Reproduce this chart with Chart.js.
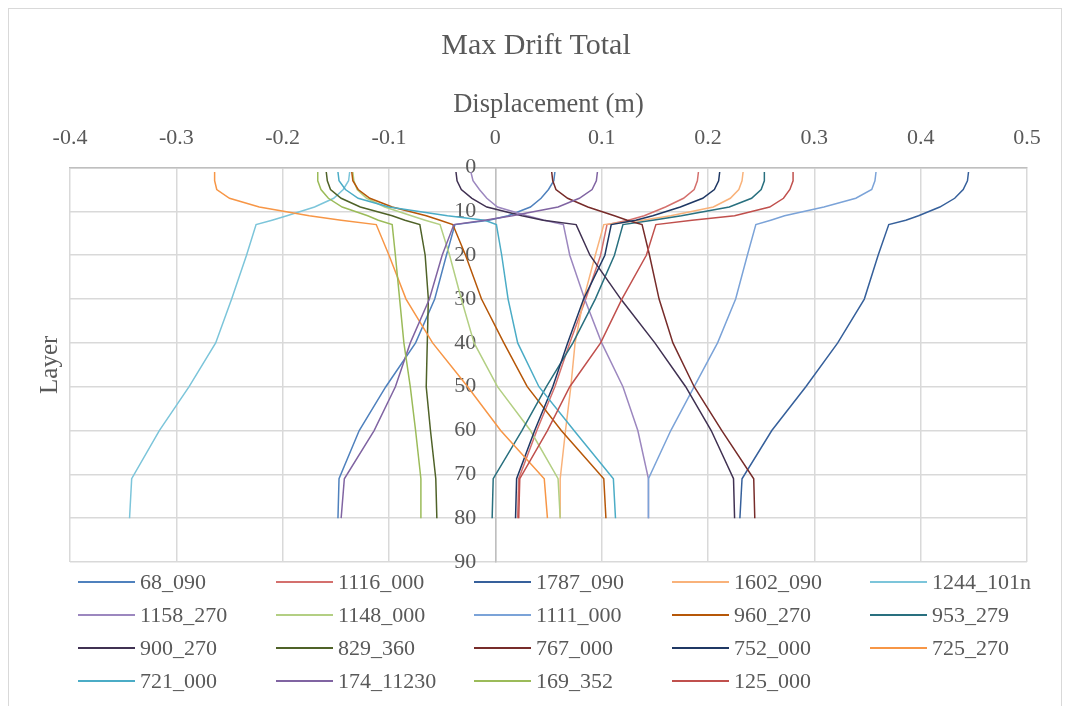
<!DOCTYPE html>
<html>
<head>
<meta charset="utf-8">
<title>Max Drift Total</title>
<script src="https://cdn.jsdelivr.net/npm/chart.js@4.4.1/dist/chart.umd.min.js"></script>
<style>
  html, body { margin: 0; padding: 0; background: #fff; }
  #wrap { position: relative; width: 1065px; height: 706px; overflow: hidden; }
  #frame { position: absolute; left: 8px; top: 8px; width: 1054px; height: 710px; border: 1px solid #d9d9d9; box-sizing: border-box; }
  #chart { position: absolute; left: 0; top: 0; }
  #legend {
    position: absolute; left: 78px; top: 565px;
    display: grid; grid-template-columns: repeat(5, 198px); grid-auto-rows: 33px;
    font: 22px "Liberation Serif", "Times New Roman", serif; color: #595959;
  }
  .item { display: flex; align-items: center; white-space: nowrap; }
  .swatch { width: 57px; height: 2px; margin-right: 5px; }
</style>
</head>
<body>
<div id="wrap">
  <div id="frame"></div>
  <canvas id="chart" width="1065" height="706"></canvas>
  <div id="legend"></div>
</div>
<script>
const layers = [1, 3, 5, 7, 9, 11, 12, 13, 20, 30, 40, 50, 60, 71, 80];

// Max displacement (m) per record, same order as layers
const r68_090   = [0.056, 0.055, 0.050, 0.043, 0.033, 0.012, -0.006, -0.038, -0.046, -0.057, -0.075, -0.103, -0.128, -0.147, -0.148];
const r1116_000 = [0.191, 0.190, 0.187, 0.177, 0.160, 0.140, 0.125, 0.105, 0.099, 0.085, 0.070, 0.056, 0.039, 0.022, 0.021];
const r1787_090 = [0.445, 0.444, 0.440, 0.432, 0.418, 0.398, 0.386, 0.370, 0.360, 0.347, 0.322, 0.292, 0.260, 0.232, 0.230];
const r1602_090 = [0.233, 0.232, 0.229, 0.221, 0.205, 0.165, 0.138, 0.102, 0.094, 0.083, 0.075, 0.071, 0.066, 0.061, 0.061];
const r1244_101n = [-0.137, -0.138, -0.143, -0.152, -0.170, -0.196, -0.210, -0.225, -0.234, -0.248, -0.263, -0.288, -0.316, -0.342, -0.344];
const r1158_270 = [-0.023, -0.021, -0.015, -0.008, 0.002, 0.030, 0.046, 0.064, 0.070, 0.084, 0.100, 0.120, 0.134, 0.144, 0.144];
const r1148_000 = [-0.134, -0.133, -0.130, -0.121, -0.104, -0.079, -0.066, -0.052, -0.043, -0.032, -0.020, 0.002, 0.033, 0.059, 0.061];
const r1111_000 = [0.358, 0.357, 0.354, 0.339, 0.309, 0.272, 0.259, 0.245, 0.237, 0.226, 0.209, 0.187, 0.165, 0.144, 0.144];
const r960_270  = [-0.135, -0.134, -0.129, -0.118, -0.097, -0.065, -0.052, -0.040, -0.028, -0.013, 0.008, 0.030, 0.062, 0.102, 0.104];
const r953_279  = [0.253, 0.253, 0.250, 0.241, 0.220, 0.175, 0.148, 0.120, 0.112, 0.094, 0.073, 0.048, 0.025, -0.002, -0.003];
const r900_270  = [-0.037, -0.036, -0.032, -0.022, -0.008, 0.025, 0.045, 0.076, 0.089, 0.118, 0.150, 0.179, 0.203, 0.224, 0.225];
const r829_360  = [-0.159, -0.158, -0.155, -0.145, -0.127, -0.097, -0.085, -0.071, -0.066, -0.063, -0.064, -0.065, -0.061, -0.056, -0.055];
const r767_000  = [0.053, 0.054, 0.057, 0.068, 0.087, 0.112, 0.124, 0.138, 0.145, 0.154, 0.167, 0.187, 0.213, 0.243, 0.244];
const r752_000  = [0.211, 0.210, 0.206, 0.195, 0.174, 0.148, 0.132, 0.109, 0.103, 0.083, 0.068, 0.054, 0.037, 0.020, 0.019];
const r725_270  = [-0.264, -0.264, -0.262, -0.250, -0.222, -0.175, -0.145, -0.112, -0.100, -0.084, -0.059, -0.026, 0.005, 0.046, 0.049];
const r721_000  = [-0.148, -0.147, -0.141, -0.129, -0.100, -0.045, -0.010, 0.001, 0.006, 0.012, 0.021, 0.041, 0.074, 0.111, 0.113];
const r174_11230 = [0.096, 0.095, 0.091, 0.079, 0.059, 0.016, -0.010, -0.039, -0.050, -0.062, -0.080, -0.094, -0.114, -0.142, -0.145];
const r169_352  = [-0.167, -0.167, -0.164, -0.157, -0.144, -0.120, -0.110, -0.097, -0.094, -0.090, -0.086, -0.080, -0.075, -0.070, -0.070];
const r125_000  = [0.280, 0.280, 0.277, 0.271, 0.258, 0.225, 0.185, 0.151, 0.142, 0.119, 0.099, 0.070, 0.049, 0.023, 0.022];

const seriesNames = ['68_090', '1116_000', '1787_090', '1602_090', '1244_101n',
                     '1158_270', '1148_000', '1111_000', '960_270', '953_279',
                     '900_270', '829_360', '767_000', '752_000', '725_270',
                     '721_000', '174_11230', '169_352', '125_000'];
const seriesValues = [r68_090, r1116_000, r1787_090, r1602_090, r1244_101n,
                      r1158_270, r1148_000, r1111_000, r960_270, r953_279,
                      r900_270, r829_360, r767_000, r752_000, r725_270,
                      r721_000, r174_11230, r169_352, r125_000];
const seriesColors = ['#4F81BD', '#D4706D', '#36609B', '#F9B27A', '#7CC5DA',
                      '#9C87BF', '#B3CF83', '#7BA3D8', '#B65708', '#29707F',
                      '#403152', '#4F6228', '#772C2A', '#1F3864', '#F79646',
                      '#4BACC6', '#8064A2', '#9BBB59', '#C0504D'];

const xTicks = [-0.4, 0.5, 0.1];   // min, max, step
const yTicks = [0, 90, 10];

const grey = '#595959';
const serif = '"Liberation Serif", "Times New Roman", serif';
Chart.defaults.font.family = serif;
Chart.defaults.color = grey;

// The layer labels sit just left of the vertical axis at x = 0 (Excel style).
// Chart.js puts labels of an axis placed at a value right on the line, so draw them here.
const layerLabelsAtZero = {
    id: 'layerLabelsAtZero',
    beforeDatasetsDraw(chart) {
        const { ctx, scales: { x, y } } = chart;
        const x0 = x.getPixelForValue(0);
        ctx.save();
        ctx.font = '22px ' + serif;
        ctx.fillStyle = grey;
        ctx.textAlign = 'right';
        ctx.textBaseline = 'middle';
        y.ticks.forEach(t => {
            ctx.fillText(String(t.value), x0 - 19, y.getPixelForValue(t.value));
        });
        ctx.restore();
    }
};

const datasets = seriesNames.map((name, i) => ({
    label: name,
    data: layers.map((layer, j) => ({ x: seriesValues[i][j], y: layer })),
    showLine: true,
    borderColor: seriesColors[i],
    backgroundColor: seriesColors[i],
    borderWidth: 1.5,
    pointRadius: 0,
    tension: 0,
    order: seriesNames.length - i   // later series on top, like Excel
}));

new Chart(document.getElementById('chart'), {
    type: 'scatter',
    data: { datasets: datasets },
    plugins: [layerLabelsAtZero],
    options: {
        responsive: false,
        animation: false,
        layout: { padding: { left: 30, right: 38, top: 0, bottom: 144 } },
        plugins: {
            legend: { display: false },
            tooltip: { enabled: false },
            title: {
                display: true,
                text: '\u2002Max Drift Total',
                color: grey,
                font: { size: 30, weight: 'normal' },
                padding: { top: 28, bottom: 13 }
            }
        },
        scales: {
            x: {
                type: 'linear',
                position: 'top',
                min: xTicks[0],
                max: xTicks[1],
                ticks: {
                    stepSize: xTicks[2],
                    padding: 16,
                    font: { size: 22 },
                    callback: v => String(Math.round(v * 10) / 10)
                },
                grid: { color: '#d9d9d9', lineWidth: 1.5, drawTicks: false },
                border: { color: '#bfbfbf', width: 1.5 },
                title: {
                    display: true,
                    text: 'Displacement (m)',
                    font: { size: 26.5 },
                    padding: { top: 12, bottom: 0 }
                },
                afterFit: scale => { scale.height = 90.6; }
            },
            y: {
                type: 'linear',
                position: { x: 0 },   // vertical axis crosses at displacement 0
                reverse: true,
                min: yTicks[0],
                max: yTicks[1],
                ticks: { stepSize: yTicks[2], display: false },
                grid: { color: '#d9d9d9', lineWidth: 1.5, drawTicks: false },
                border: { color: '#bfbfbf', width: 1.5 }
            },
            // only carries the "Layer" title on the left edge
            yl: {
                type: 'linear',
                position: 'left',
                min: yTicks[0],
                max: yTicks[1],
                ticks: { display: false },
                grid: { display: false },
                border: { display: false },
                title: {
                    display: true,
                    text: 'Layer',
                    font: { size: 25 },
                    padding: { top: 5, bottom: 5 }
                },
                afterFit: scale => { scale.width = 40; }
            }
        }
    }
});

// legend in 5 fixed columns, as in the original
const legendBox = document.getElementById('legend');
seriesNames.forEach((name, i) => {
    const item = document.createElement('div');
    item.className = 'item';
    const sw = document.createElement('span');
    sw.className = 'swatch';
    sw.style.background = seriesColors[i];
    item.appendChild(sw);
    item.appendChild(document.createTextNode(name));
    legendBox.appendChild(item);
});
</script>
</body>
</html>
